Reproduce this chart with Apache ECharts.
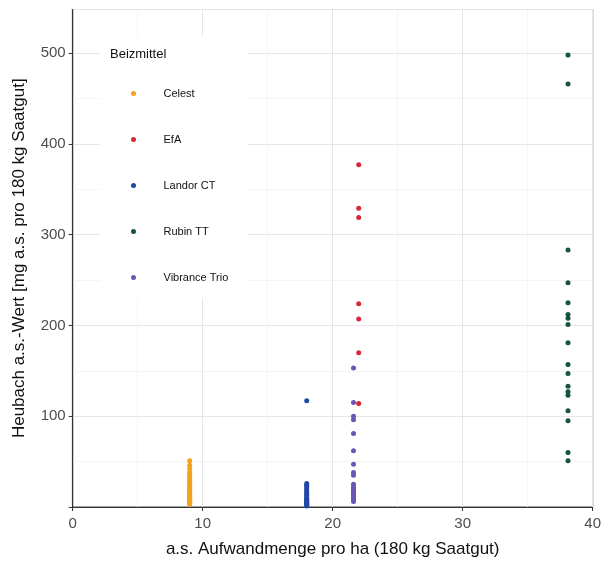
<!DOCTYPE html>
<html>
<head>
<meta charset="utf-8">
<script src="https://cdn.jsdelivr.net/npm/echarts@6/dist/echarts.min.js"></script>
<style>html,body{margin:0;padding:0;background:#fff}#c{width:601px;height:561px}</style>
</head>
<body>
<div id="c"></div>
<script>
const seriesNames = ['Celest', 'EfA', 'Landor CT', 'Rubin TT', 'Vibrance Trio'];
const xCelest = 9.0;
const xEfA = 22.0;
const xLandor = 18.0;
const xRubin = 38.1;
const xVibrance = 21.6;
const yCelest = [51, 46, 42, 38, 35, 32, 30, 28, 26, 24, 22, 20, 18, 17, 15, 14, 12, 11, 10, 8, 7, 6, 5, 4, 3];
const yEfA = [377, 329, 319, 224, 207, 170, 114];
const yLandor = [117, 26, 24, 22, 20, 18, 16, 14, 12, 10, 9, 8, 7, 6, 5, 4, 3, 2, 1];
const yRubin = [498, 466, 283, 247, 225, 212, 208, 201, 181, 157, 147, 133, 127, 123, 106, 95, 60, 51];
const yVibrance = [153, 115, 100, 96, 81, 62, 47, 38, 35, 25, 22, 20, 18, 16, 14, 12, 10, 8, 6];
const xTicks = [0, 10, 20, 30, 40];
const yTicks = [100, 200, 300, 400, 500];
const colors = ['#F4A11D', '#D62839', '#2148A8', '#15553A', '#6B55B5'];

const xs = [xCelest, xEfA, xLandor, xRubin, xVibrance];
const ys = [yCelest, yEfA, yLandor, yRubin, yVibrance];
const FF = '"Liberation Sans", Arial, sans-serif';

const chart = echarts.init(document.getElementById('c'), null, {renderer: 'canvas'});
chart.setOption({
  backgroundColor: '#fff',
  animation: false,
  grid: {left: 72.7, right: 8.3, top: 9.5, bottom: 54, show: true, borderColor: '#444', borderWidth: 1, containLabel: false, outerBoundsMode: 'none'},
  graphic: [
    {type: 'rect', z: 3, shape: {x: 100, y: 36, width: 148, height: 262}, style: {fill: '#fff'}},
    {type: 'text', z: 4, left: 110, top: 48, style: {text: 'Beizmittel', font: '13px ' + FF, fill: '#111'}}
  ],
  legend: {
    orient: 'vertical', left: 126, top: 83, itemWidth: 50, itemHeight: 5, itemGap: 35,
    icon: 'circle', z: 5,
    textStyle: {fontSize: 11, fontFamily: FF, color: '#111', padding: [0,0,0,0]},
    data: seriesNames
  },
  xAxis: {
    type: 'value', min: 0, max: 40, interval: 10,
    name: 'a.s. Aufwandmenge pro ha (180 kg Saatgut)', nameLocation: 'middle', nameGap: 34,
    nameTextStyle: {fontSize: 17, color: '#111', fontFamily: FF},
    axisLine: {show: true, lineStyle: {color: '#333', width: 1.2}},
    axisTick: {show: true, length: 4, lineStyle: {color: '#333'}},
    axisLabel: {fontSize: 15, color: '#4D4D4D', margin: 9, fontFamily: FF, formatter: v => xTicks.includes(v) ? String(v) : ''},
    splitLine: {show: true, lineStyle: {color: '#E6E6E6', width: 1}},
    minorTick: {show: false, splitNumber: 2},
    minorSplitLine: {show: true, lineStyle: {color: '#F2F2F2', width: 0.8}}
  },
  yAxis: {
    type: 'value', min: 0, max: 548, interval: 100,
    name: 'Heubach a.s.-Wert [mg a.s. pro 180 kg Saatgut]', nameLocation: 'middle', nameGap: 45,
    nameTextStyle: {fontSize: 17, color: '#111', fontFamily: FF},
    axisLine: {show: true, lineStyle: {color: '#333', width: 1.2}},
    axisTick: {show: true, length: 4, lineStyle: {color: '#333'}},
    axisLabel: {fontSize: 15, color: '#4D4D4D', margin: 7, padding: [6, 0, 0, 0], showMaxLabel: false, fontFamily: FF, formatter: v => yTicks.includes(v) ? String(v) : ''},
    splitLine: {show: true, lineStyle: {color: '#E6E6E6', width: 1}},
    minorTick: {show: false, splitNumber: 2},
    minorSplitLine: {show: true, lineStyle: {color: '#F2F2F2', width: 0.8}}
  },
  series: seriesNames.map((n, i) => ({
    name: n, type: 'scatter', symbol: 'circle', symbolSize: 5,
    itemStyle: {color: colors[i], opacity: 1},
    data: ys[i].map(v => [xs[i], v])
  }))
});
</script>
</body>
</html>
